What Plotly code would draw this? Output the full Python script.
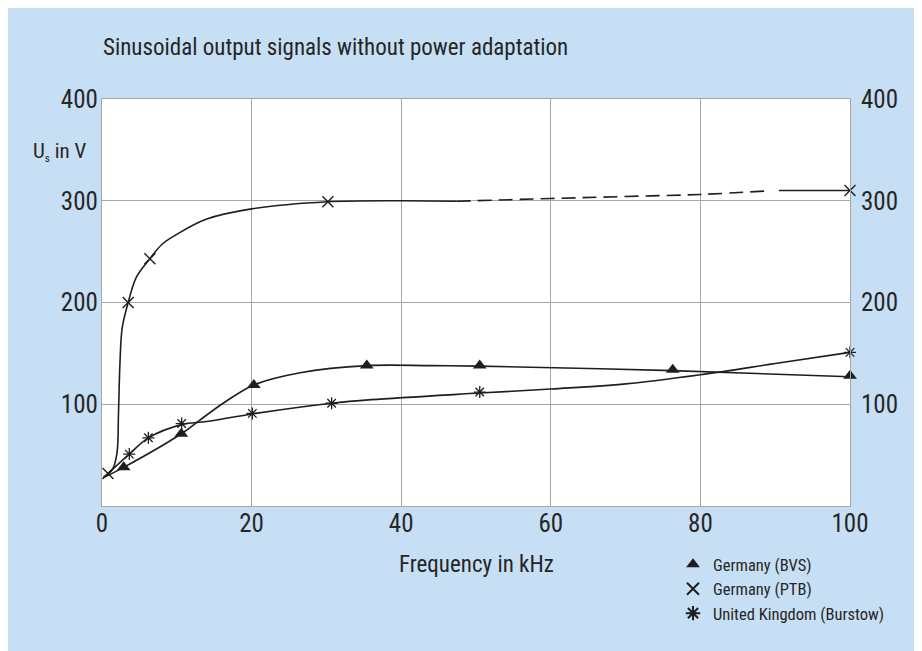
import plotly.graph_objects as go

# ---- data ----
# Germany (BVS) – measured points (triangles)
bvs_f = [2.9, 10.6, 20.3, 35.4, 50.5, 76.3, 100]
bvs_u = [38, 71, 119, 138, 138, 134, 128]
# BVS fitted curve
bvs_curve_f = [0.2, 2.9, 10.6, 13.0, 16.2, 20.3, 26.5, 35.4, 44.0, 50.5, 76.3, 100]
bvs_curve_u = [28, 38, 71, 84, 101, 119, 131, 138, 138, 137.5, 133, 127]

# Germany (PTB) – measured points (crosses)
ptb_f = [0.8, 3.5, 6.4, 30.2, 100]
ptb_u = [32, 200, 243, 299, 310]
# PTB fitted curve: solid, dashed (extrapolated), solid end
ptb_solid_f = [0.2, 1.4, 2.0, 2.2, 2.4, 2.7, 3.5, 4.6, 6.4, 8.0, 10.0, 14.0, 20.0, 30.2, 40.0, 47.4]
ptb_solid_u = [28, 36, 52, 90, 140, 175, 200, 225, 243, 257, 267, 282, 292, 299, 300, 299.5]
ptb_dash_f = [47.4, 60.0, 70.0, 80.0, 89.3]
ptb_dash_u = [299.5, 302.2, 304.2, 306.2, 309.8]
ptb_end_f = [90.5, 100]
ptb_end_u = [310, 310]

# United Kingdom (Burstow) – measured points (asterisks)
uk_f = [3.65, 6.2, 10.65, 20.1, 30.7, 50.5, 100]
uk_u = [51, 67, 81, 91, 101, 112, 151]
uk_curve_f = [0.2, 3.65, 6.2, 10.65, 14.0, 20.1, 30.7, 36.0, 50.5, 60.0, 70.0, 80.0, 90.0, 100]
uk_curve_u = [28, 51, 67, 80, 83, 90.5, 101, 104.5, 111, 115, 120, 129, 140, 151]

x_ticks = [0, 20, 40, 60, 80, 100]
y_ticks = [100, 200, 300, 400]

# ---- styling ----
FONT = "Liberation Sans Narrow, Roboto Condensed, DejaVu Sans Condensed, Arial Narrow, sans-serif"
TXT = "#262626"
BLUE = "#c7dff4"
GRID = "#a6a6a6"
LINE = "#1e1e1e"

OFF = 8  # page body margin
W, H = 914, 643
ML, MR, MT, MB = 94, 72, 91, 145
PW, PH = W - ML - MR, H - MT - MB


def px2paper_x(px):
    return (px - OFF - ML) / PW


def px2paper_y(py):
    return (H - MB - (py - OFF)) / PH


fig = go.Figure()

line_style = dict(color=LINE, width=1.6, shape="spline", smoothing=1.0)

fig.add_trace(go.Scatter(x=bvs_curve_f, y=bvs_curve_u, mode="lines",
                         line=line_style, showlegend=False, hoverinfo="skip"))
fig.add_trace(go.Scatter(x=uk_curve_f, y=uk_curve_u, mode="lines",
                         line=line_style, showlegend=False, hoverinfo="skip"))
fig.add_trace(go.Scatter(x=ptb_solid_f, y=ptb_solid_u, mode="lines",
                         line=line_style, showlegend=False, hoverinfo="skip"))
fig.add_trace(go.Scatter(x=ptb_dash_f, y=ptb_dash_u, mode="lines",
                         line=dict(color=LINE, width=1.6, shape="spline", dash="14px,7px"),
                         showlegend=False, hoverinfo="skip"))
fig.add_trace(go.Scatter(x=ptb_end_f, y=ptb_end_u, mode="lines",
                         line=dict(color=LINE, width=1.6), showlegend=False, hoverinfo="skip"))

fig.add_trace(go.Scatter(x=bvs_f, y=bvs_u, mode="markers", name="Germany (BVS)",
                         marker=dict(symbol="triangle-up", size=12, color=LINE,
                                     line=dict(width=0)), cliponaxis=False))
fig.add_trace(go.Scatter(x=ptb_f, y=ptb_u, mode="markers", name="Germany (PTB)",
                         marker=dict(symbol="x-thin-open", size=11, color=LINE,
                                     line=dict(width=1.4, color=LINE)), cliponaxis=False))
fig.add_trace(go.Scatter(x=uk_f, y=uk_u, mode="markers", name="United Kingdom (Burstow)",
                         marker=dict(symbol="asterisk-open", size=10, color=LINE,
                                     line=dict(width=1.3, color=LINE)), cliponaxis=False))

# invisible trace on right axis so it renders
fig.add_trace(go.Scatter(x=[0], y=[0], yaxis="y2", mode="markers",
                         marker=dict(opacity=0), showlegend=False, hoverinfo="skip"))

axis_common = dict(showgrid=True, gridcolor=GRID, gridwidth=1.3, zeroline=False,
                   showline=True, linecolor=GRID, linewidth=1.3, ticks="",
                   tickfont=dict(family=FONT, size=25, color=TXT))

fig.update_layout(
    width=W, height=H,
    margin=dict(l=ML, r=MR, t=MT, b=MB),
    paper_bgcolor=BLUE, plot_bgcolor="white",
    font=dict(family=FONT, color=TXT),
    xaxis=dict(range=[0, 100], tickvals=x_ticks, mirror=True, ticklabelstandoff=-5,
               **axis_common),
    yaxis=dict(range=[0, 400], tickvals=y_ticks, mirror=True, ticklabelstandoff=-2,
               **axis_common),
    yaxis2=dict(range=[0, 400], tickvals=y_ticks, overlaying="y", side="right",
                showgrid=False, zeroline=False, showline=False, ticks="",
                ticklabelstandoff=10,
                tickfont=dict(family=FONT, size=25, color=TXT)),
    legend=dict(x=px2paper_x(673), y=px2paper_y(547), xanchor="left", yanchor="top",
                bgcolor="rgba(0,0,0,0)", font=dict(family=FONT, size=16.5, color=TXT),
                tracegroupgap=0, itemsizing="constant"),
    showlegend=True,
    annotations=[
        dict(text="Sinusoidal output signals without power adaptation", xref="paper", yref="paper",
             x=px2paper_x(101), y=px2paper_y(48), xanchor="left", yanchor="middle",
             showarrow=False, font=dict(family=FONT, size=23, color=TXT)),
        dict(text="U<sub><span style='font-size:11px'>s</span></sub> in V", xref="paper", yref="paper",
             x=px2paper_x(88), y=px2paper_y(152), xanchor="right", yanchor="middle",
             showarrow=False, font=dict(family=FONT, size=21, color=TXT)),
        dict(text="Frequency in kHz", xref="paper", yref="paper",
             x=0.5, y=px2paper_y(564), xanchor="center", yanchor="middle",
             showarrow=False, font=dict(family=FONT, size=23, color=TXT)),
    ],
)

fig.write_html("out.html")
